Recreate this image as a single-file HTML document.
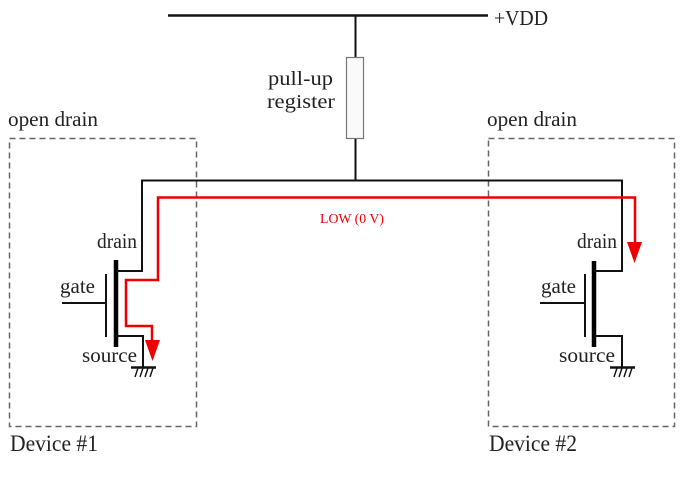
<!DOCTYPE html>
<html><head><style>
html,body{margin:0;padding:0;background:#fff;}
svg text{font-family:"Liberation Serif",serif;fill:#222;}
</style></head><body>
<svg width="684" height="474" viewBox="0 0 684 474" xmlns="http://www.w3.org/2000/svg">
<rect x="9.5" y="138.5" width="187" height="288" fill="none" stroke="#666" stroke-width="1.5" stroke-dasharray="6,4"/>
<rect x="488.5" y="138.5" width="186" height="288" fill="none" stroke="#666" stroke-width="1.5" stroke-dasharray="6,4"/>
<line x1="168" y1="15.5" x2="488" y2="15.5" stroke="#111" stroke-width="2.5"/>
<line x1="355.5" y1="15" x2="355.5" y2="57" stroke="#111" stroke-width="2"/>
<rect x="346.5" y="57.5" width="17" height="81" fill="#fafafa" stroke="#777" stroke-width="1.2"/>
<line x1="355.5" y1="139" x2="355.5" y2="180" stroke="#111" stroke-width="2"/>
<polyline points="142,271 142,180.5 622,180.5 622,271" fill="none" stroke="#111" stroke-width="2"/>
<line x1="116" y1="260" x2="116" y2="347" stroke="#000" stroke-width="4.5"/>
<line x1="106" y1="274" x2="106" y2="337" stroke="#111" stroke-width="2"/>
<line x1="62" y1="303" x2="106" y2="303" stroke="#111" stroke-width="2"/>
<line x1="116" y1="271" x2="143" y2="271" stroke="#111" stroke-width="2"/>
<polyline points="116,336 143,336 143,367" fill="none" stroke="#111" stroke-width="2"/>
<line x1="131" y1="367.5" x2="156" y2="367.5" stroke="#111" stroke-width="2.5"/>
<g stroke="#111" stroke-width="1.4"><line x1="138" y1="368" x2="135" y2="377"/><line x1="143" y1="368" x2="140" y2="377"/><line x1="148" y1="368" x2="145" y2="377"/><line x1="153" y1="368" x2="150" y2="377"/></g>
<line x1="594" y1="261" x2="594" y2="347" stroke="#000" stroke-width="4.5"/>
<line x1="585" y1="274" x2="585" y2="337" stroke="#111" stroke-width="2"/>
<line x1="540" y1="303" x2="585" y2="303" stroke="#111" stroke-width="2"/>
<line x1="594" y1="271" x2="623" y2="271" stroke="#111" stroke-width="2"/>
<polyline points="594,336 622,336 622,367" fill="none" stroke="#111" stroke-width="2"/>
<line x1="610" y1="367.5" x2="635" y2="367.5" stroke="#111" stroke-width="2.5"/>
<g stroke="#111" stroke-width="1.4"><line x1="617" y1="368" x2="614" y2="377"/><line x1="622" y1="368" x2="619" y2="377"/><line x1="627" y1="368" x2="624" y2="377"/><line x1="632" y1="368" x2="629" y2="377"/></g>
<polyline points="152,342 152,326 126,326 126,280 158,280 158,197.5 635,197.5 635,244" fill="none" stroke="#e00" stroke-width="2.5"/>
<polygon points="145,340 160,340 152.5,361" fill="#e00"/>
<polygon points="627,242 642,242 634.5,263" fill="#e00"/>
<text x="494" y="25" font-size="21" textLength="54" lengthAdjust="spacingAndGlyphs">+VDD</text>
<text x="268" y="85" font-size="20" textLength="65" lengthAdjust="spacingAndGlyphs">pull-up</text>
<text x="267" y="108" font-size="20" textLength="68" lengthAdjust="spacingAndGlyphs">register</text>
<text x="8" y="126" font-size="21" textLength="90" lengthAdjust="spacingAndGlyphs">open drain</text>
<text x="487" y="126" font-size="21" textLength="90" lengthAdjust="spacingAndGlyphs">open drain</text>
<text x="320" y="223" font-size="14" textLength="64" lengthAdjust="spacingAndGlyphs" style="fill:#e00">LOW (0 V)</text>
<text x="97" y="248" font-size="21" textLength="40" lengthAdjust="spacingAndGlyphs">drain</text>
<text x="60" y="293" font-size="21" textLength="35" lengthAdjust="spacingAndGlyphs">gate</text>
<text x="82" y="362" font-size="21" textLength="55" lengthAdjust="spacingAndGlyphs">source</text>
<text x="577" y="248" font-size="21" textLength="40" lengthAdjust="spacingAndGlyphs">drain</text>
<text x="541" y="293" font-size="21" textLength="35" lengthAdjust="spacingAndGlyphs">gate</text>
<text x="559" y="362" font-size="21" textLength="56" lengthAdjust="spacingAndGlyphs">source</text>
<text x="10" y="451" font-size="23" textLength="88" lengthAdjust="spacingAndGlyphs">Device #1</text>
<text x="489" y="451" font-size="23" textLength="88" lengthAdjust="spacingAndGlyphs">Device #2</text>
</svg>
</body></html>
